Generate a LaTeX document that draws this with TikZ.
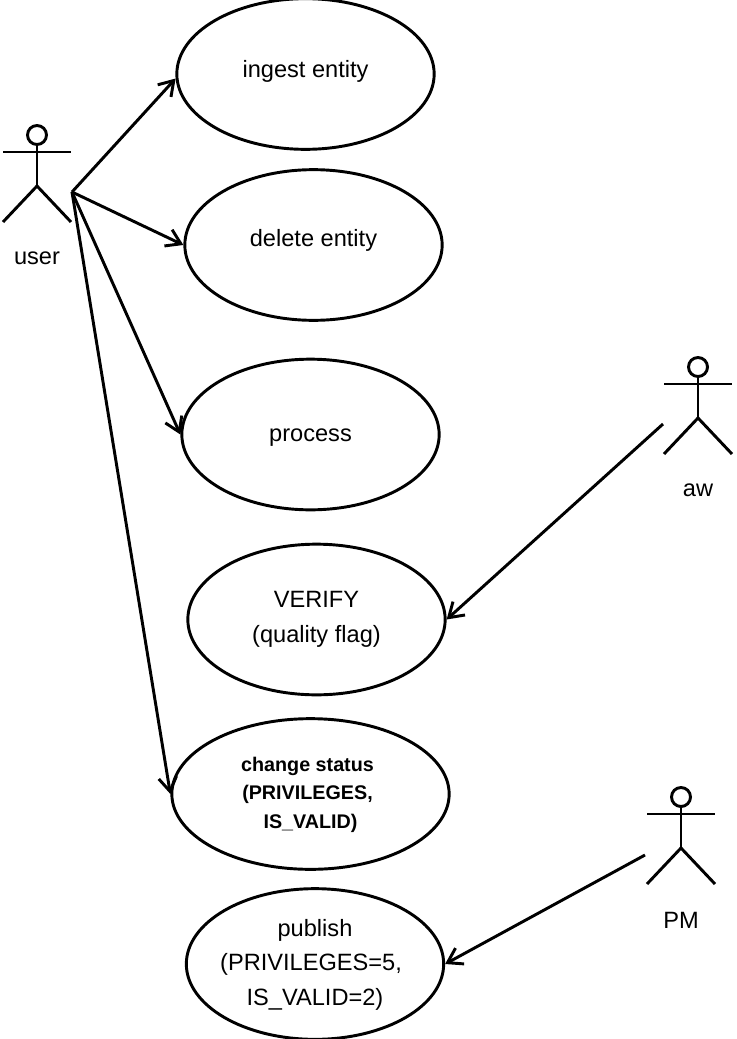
\documentclass[tikz,border=0pt]{standalone}
\usepackage{fontspec}
\setmainfont{Liberation Sans}
\usetikzlibrary{shapes.geometric, arrows.meta, positioning}

\begin{document}
\begin{tikzpicture}[
    x=0.75pt, y=-0.75pt,
    usecase/.style={ellipse, draw=black, line width=2.2pt, inner sep=0pt, minimum width=193pt, minimum height=113pt, align=center, font=\fontsize{17.7}{26}\selectfont},
    boldcase/.style={usecase, minimum width=208pt, font=\fontsize{14.8}{21.4}\selectfont\bfseries},
    actorname/.style={font=\fontsize{17.7}{26}\selectfont},
    arrow/.style={-{Straight Barb[length=10.5pt, width=13.5pt]}, line width=2.2pt},
    actor/.pic={
        \draw[line width=2.2pt] (0,0) circle (9.5);
        \draw[line width=2.2pt] (0,9.5) -- (0,51);
        \draw[line width=2.2pt] (-34,17) -- (34,17);
        \draw[line width=2.2pt] (-34,87) -- (0,51) -- (34,87);
    }
]
    \useasboundingbox (0,0) rectangle (736,1039);

    % Use cases
    \node[usecase, text depth=8.2pt] (ingest) at (305.5,74) {ingest entity};
    \node[usecase, text depth=11.2pt] (delete) at (313.5,245) {delete entity};
    \node[usecase, text height=14pt] (process) at (310.5,434.5) {process};
    \node[usecase] (verify) at (316.5,619.5) {VERIFY\\(quality flag)};
    \node[boldcase] (status) at (310.5,794) {\begin{tabular}{@{}c@{}}change status\hspace*{4.5pt}\\(PRIVILEGES,\hspace*{4.5pt}\\IS\_VALID)\end{tabular}};
    \node[usecase, inner xsep=-3pt] (publish) at (315,964) {\begin{tabular}{@{}c@{}}publish\\(PRIVILEGES=5,\hspace*{6pt}\\IS\_VALID=2)\end{tabular}};

    % Actors
    \pic at (37,135) {actor};
    \pic at (698,367) {actor};
    \pic at (681,797) {actor};
    \node[actorname] (user) at (37,258) {user};
    \node[actorname] (aw) at (698,490) {aw};
    \node[actorname] (pm) at (681,920) {PM};

    \coordinate (userhand) at (72,192);
    \coordinate (awhand) at (663,424);
    \coordinate (pmhand) at (645,855);

    % Associations
    \draw[arrow] (userhand) -- (ingest.182);
    \draw[arrow] (userhand) -- (delete.west);
    \draw[arrow] (userhand) -- (process.west);
    \draw[arrow] (userhand) -- (status.west);
    \draw[arrow] (awhand) -- (verify.east);
    \draw[arrow] (pmhand) -- (publish.east);
\end{tikzpicture}
\end{document}
